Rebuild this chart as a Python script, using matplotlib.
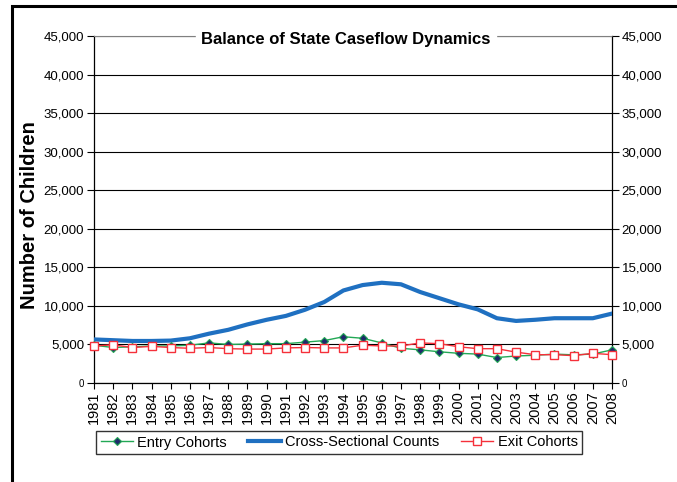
import matplotlib
matplotlib.use("Agg")
import matplotlib.pyplot as plt
from matplotlib.patches import Rectangle
from matplotlib.ticker import FuncFormatter

plt.rcParams["font.family"] = ["Liberation Sans", "DejaVu Sans"]

years = list(range(1981, 2009))

entry_cohorts = [4900, 4600, 4700, 4800, 4800, 4900, 5200, 5000, 5050, 5100,
                 5100, 5300, 5500, 6000, 5800, 5200, 4500, 4300, 4050, 3850,
                 3750, 3300, 3500, 3600, 3750, 3650, 3750, 4300]
cross_sectional = [5650, 5550, 5450, 5450, 5500, 5800, 6400, 6900, 7600, 8200,
                   8700, 9500, 10500, 12000, 12700, 13000, 12800, 11800, 11000, 10200,
                   9550, 8400, 8050, 8200, 8400, 8400, 8400, 9000]
exit_cohorts = [4800, 4950, 4600, 4750, 4600, 4500, 4600, 4450, 4400, 4400,
                4550, 4600, 4550, 4550, 4900, 4800, 4800, 5200, 5100, 4700,
                4450, 4450, 4000, 3670, 3670, 3550, 3850, 3670]

y_ticks = list(range(0, 45001, 5000))


def thousands(v, _pos):
    return f"{int(v):,}"


fig = plt.figure(figsize=(6.77, 4.82), dpi=100)
ax = fig.add_axes([94 / 677, 99 / 482, 518 / 677, 347 / 482])

ax.plot(years, entry_cohorts, color="#22A855", lw=1.0, marker="D", markersize=4,
        markerfacecolor="#1F2A6B", markeredgecolor="#22A855", markeredgewidth=0.8,
        label="Entry Cohorts", clip_on=False, zorder=4)
ax.plot(years, cross_sectional, color="#1F70C1", lw=3.0,
        label="Cross-Sectional Counts", zorder=3)
ax.plot(years, exit_cohorts, color="#F5303A", lw=1.0, marker="s", markersize=5.5,
        markerfacecolor="white", markeredgecolor="#F5303A", markeredgewidth=1.0,
        label="Exit Cohorts", clip_on=False, zorder=5)

ax.set_xlim(1981, 2008)
ax.set_ylim(0, 45000)
ax.set_yticks(y_ticks)
ax.yaxis.set_major_formatter(FuncFormatter(thousands))
ax.set_xticks(years)
ax.set_xticklabels([str(y) for y in years], rotation=90, fontsize=10.5)
ax.tick_params(axis="y", labelsize=9.5, length=5, width=0.8, direction="out", pad=2)
ax.tick_params(axis="x", length=4, width=0.8, direction="out", pad=2)
ax.grid(axis="y", color="black", lw=0.8)
ax.set_axisbelow(True)

for side in ["left", "right", "bottom"]:
    ax.spines[side].set_color("black")
    ax.spines[side].set_linewidth(0.9)
ax.spines["top"].set_color("#808080")

# mirrored value scale on the right
ax2 = ax.twinx()
ax2.set_ylim(ax.get_ylim())
ax2.set_yticks(y_ticks)
ax2.yaxis.set_major_formatter(FuncFormatter(thousands))
ax2.tick_params(axis="y", labelsize=9.5, length=5, width=0.8, direction="out", pad=2)
for side in ["left", "right", "bottom", "top"]:
    ax2.spines[side].set_visible(False)

for a in (ax, ax2):
    a.get_yticklabels()[0].set_fontsize(7)

ax.set_title("Balance of State Caseflow Dynamics", fontsize=12, fontweight="bold",
             x=0.486, y=1.0, pad=-6, backgroundcolor="white", zorder=10)

fig.text(30 / 677, 1 - 215 / 482, "Number of Children", rotation=90,
         ha="center", va="center", fontsize=14.5, fontweight="bold")

leg = fig.legend(loc="center", bbox_to_anchor=(339 / 677, 1 - 442.5 / 482), ncol=3,
                 fontsize=10.5, frameon=True, fancybox=False, handlelength=2.2,
                 handletextpad=0.3, columnspacing=1.5, borderpad=0.3)
leg.get_frame().set_edgecolor("black")
leg.get_frame().set_linewidth(1.0)

# outer chart border
fig.patches.append(Rectangle((12 / 677, -0.1), 1.2, 1 - 6 / 482 + 0.1,
                             transform=fig.transFigure, fill=False,
                             edgecolor="black", lw=2.2))

fig.savefig("out.png", dpi=100)
